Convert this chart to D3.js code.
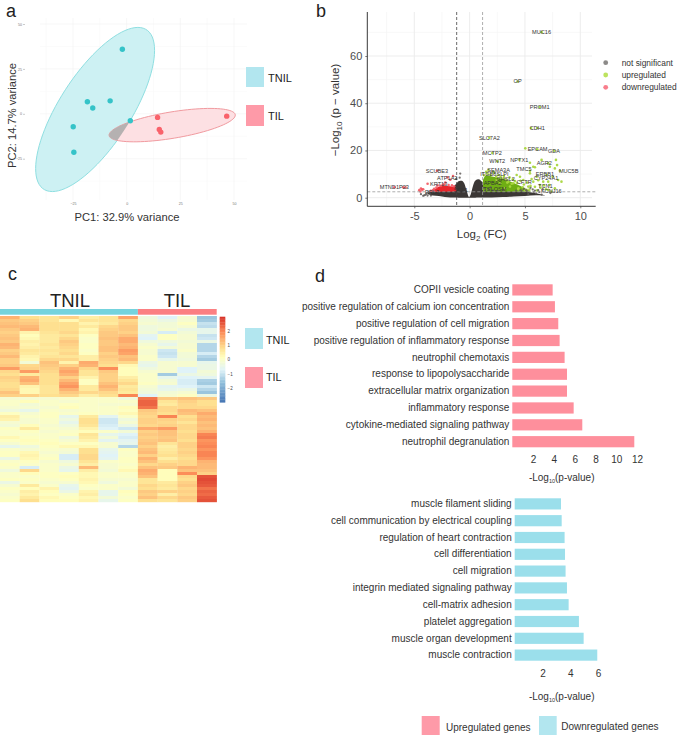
<!DOCTYPE html>
<html>
<head>
<meta charset="utf-8">
<script src="https://cdn.jsdelivr.net/npm/d3@7/dist/d3.min.js"></script>
<style>
  body { margin: 0; background: #fff; }
  text { font-family: "Liberation Sans", Arial, sans-serif; }
</style>
</head>
<body>
<script>
// panel a: PCA
var pcaTnilX = [-2, -18.3, -15.8, -7.7, 1.7, -24.9, -24.6];
var pcaTnilY = [35.9, 6.7, 3.2, 7.2, -3.9, -7.2, -21.4];
var pcaTilX = [14.4, 46.6, 15.2, 15.9];
var pcaTilY = [-2, -1.3, -8.7, -10.2];
// centre, half width, half height, correlation of each ellipse
var tnilEllipse = [-14.7, 2.4, 27.7, 45.7, 0.72];
var tilEllipse = [21.2, -6.3, 29.4, 9.3, 0.6];
var pcaTicks = [-25, 0, 25, 50];
var pcaMinor = [-37.5, -12.5, 12.5, 37.5];

// panel b: volcano
var volcanoMassX = [-3.8, -3.6, -2.5, -2, -1.5, -1.2, -1, -0.7, -0.5, -0.3, -0.05, 0.1, 0.3, 0.5, 0.8, 1.2, 2, 3, 4, 5, 6, 6.8];
var volcanoMassTop = [1.8, 2.4, 2.8, 3.2, 4.2, 6, 7, 7.2, 6.2, 3.5, 0.3, 1.5, 5, 7.2, 7.8, 6.5, 4, 3, 2.8, 2.6, 1.9, 1];
var volcanoMassBottom = [1.5, 1.2, 0.5, 0.2, 0.1, 0.05, 0, 0, 0, 0, 0, 0, 0, 0, 0.05, 0.1, 0.1, 0.3, 0.5, 0.7, 1, 0.9];
var upMassX = [1.2, 1.5, 2, 3, 4, 5, 5.5];
var upMassTop = [7.5, 9.5, 9, 8, 6.2, 4, 2.8];
var downMassX = [-3.2, -2.5, -2, -1.5, -1.2];
var downMassTop = [3.5, 5, 5, 4.6, 3.8];
var massFloor = 2.5;

var upX = [6.5, 4.34, 6.33, 5.55, 6.11, 1.78, 5.03, 6.1, 7.65, 2.05, 4.49, 2.5,
  5.45, 5.75, 5.45, 5.9, 6.5, 7.1, 7.25, 7.8, 7.9, 7.7, 8.15, 6.95, 7.5, 8, 7.1, 6.65, 8.3, 6.05, 5.45,
  4.85, 4.55, 6.35, 7.1, 7.4, 7.7, 5.75, 5.3, 5.15, 4.4, 3.95, 3.5, 3.05, 2.6, 2.15, 1.7, 3.65, 2.75, 3.2, 2.45, 4.25,
  1.3, 1.5, 1.6, 1.9, 2.2, 2.4, 2.8, 3.1, 3.3, 3.6, 3.9, 4.1, 4.3, 4.6, 4.9, 5.2, 5.5, 5.6, 5.9, 6.2, 6.4, 6.7, 6.9, 7.2,
  4.8, 5, 4.4, 5.4, 6.1, 3.8, 3.4];
var upY = [70.1, 49.2, 38.4, 29.5, 29.5, 25.4, 20.9, 20.5, 19.9, 18.9, 16.1, 15.4,
  14.8, 13.1, 11.4, 12.9, 16, 14.6, 13.1, 16, 13.8, 12.4, 11.4, 9.6, 8.9, 7.5, 6.8, 6.8, 6.8, 8.9, 10.3,
  7.5, 8.9, 5.4, 3.3, 2.6, 4, 6.8, 4.7, 3.3, 4, 6.1, 6.8, 8.2, 9.6, 11, 11.7, 4.7, 6.1, 4, 7.5, 9.6,
  9.5, 11, 10.2, 9.6, 10.5, 9, 8.8, 9.2, 7.6, 8.6, 7.8, 7, 6.2, 7.2, 5.6, 6.4, 5, 7.9, 4.6, 7.4, 4.2, 5.2, 3.6, 5.4,
  4.4, 3.1, 3.6, 3.4, 3.1, 5.9, 6.4];
var downX = [-4.55, -4.45, -4.4, -4.3, -4.2, -3.8, -2.95, -6.8, -6, -5.8, -2, -1.5, -1.75, -3.2, -3, -2.6, -2.3,
  -3.5, -3.3, -2.9, -2.4, -1.9, -1.6, -1.4, -2.2];
var downY = [3.2, 2.6, 3.9, 3.4, 3.6, 5.9, 11.4, 4.4, 4.4, 4.3, 8.6, 9.2, 7.6, 3.8, 4.3, 5, 5.5,
  2.9, 3.2, 5.2, 5.6, 5.4, 5.2, 4.8, 6.4];
var otherX = [-4.1, -3.9, -3.6, -0.9, -0.85, -1.2, 5.3, 6, 5.8, 6.2, 7.3, 5.7, 6.5, 4.7, 5.1,
  -4.4, -4.2, -4, -3.8, -3.7, -3.5,
  4.6, 4.9, 5.2, 5.5, 5.9, 6.3, 6.6, 4.2, 1.4, 1.7, 2.1, 2.5, 3, 1.3, 1.9];
var otherY = [1, 1.6, 2, 8.5, 10.2, 7.9, 1.5, 1.8, 2.4, 3.2, 2, 3.5, 1.3, 2.8, 3.2,
  1.5, 0.8, 1.2, 0.9, 2.4, 0.9,
  3.2, 3.7, 2.7, 4.2, 3, 2.4, 3.6, 3, 3, 3.6, 3.1, 2.9, 3.3, 4.2, 4.4];

var geneNames = ["MUC16", "OP", "PROM1", "CDH1", "SLC7A2", "EPCAM", "GDA", "MCTP2", "NPTX1", "WNT2", "AGR2", "TMC5",
  "SEMA3A", "MUC5B", "ITGB8", "SLPI", "ERBB1", "CYP24A1", "GHSL2", "CFTR", "APBA2", "TCN1", "SCUBE3", "ATP1A2",
  "KRT13", "MTND1P23", "KCNJ16", "TSLOSM", "RPL3", "SCL1"];
var geneX = [6.5, 4.34, 6.33, 6.11, 1.78, 6.14, 7.62, 2.05, 4.49, 2.5, 6.75, 4.91,
  2.62, 8.95, 1.69, 2.98, 6.8, 6.9, 3.25, 4.94, 2.08, 6.84, -2.95, -2.02,
  -2.8, -6.8, 7.38, 2.29, -3.4, -0.8];
var geneY = [70.1, 49.2, 38.4, 29.5, 25.4, 20.5, 19.7, 18.9, 16.1, 15.4, 14.8, 12.1,
  11.8, 11.1, 10, 10, 10.2, 8.3, 7.9, 6.8, 6.2, 5.1, 11.4, 8.3,
  5.8, 4.4, 3, 3.8, 2.4, 3.4];
var volcanoXTicks = [-5, 0, 5, 10];
var volcanoXMinor = [-7.5, -2.5, 2.5, 7.5];
var volcanoYTicks = [0, 20, 40, 60];
var volcanoYMinor = [10, 30, 50, 70];
var volcanoLegend = ["not significant", "upregulated", "downregulated"];

// panel c: heatmap, one row per gene, one value per sample
var heatColumns = ["N1", "N2", "N3", "N4", "N5", "N6", "N7", "T1", "T2", "T3", "T4"];
var heatRows = [
  [1.4,.8,.7,1,.5,.7,1.6,-.3,-.7,-.1,-1.5],
  [1.1,1,.7,.3,.7,.7,.9,-.2,-.4,-.1,-1.4],
  [1.2,1.1,.8,.8,.4,.6,1,-.1,-.2,.1,-1],
  [1.3,1.3,.8,.8,.6,.9,1.1,-.3,-.2,-.1,-1.1],
  [1.1,1.4,.8,.8,.3,1,1.1,-.3,-.1,-.4,-.5],
  [1,.4,.7,.9,.4,1.1,1,-.2,-.8,-.2,-.5],
  [1.1,.2,.6,.7,.1,1.1,1.2,-.6,.1,-.1,-1],
  [1.2,.3,.6,.9,0,1.2,1.5,-.7,.1,-.1,-.9],
  [1.1,.5,.6,1.1,0,1.1,1.5,-.3,-.3,-.2,-.4],
  [1.4,.4,.7,1,.1,1.1,1.3,-.1,-.5,-.1,-1.2],
  [1.3,.5,.6,.9,.1,1.2,1.4,0,-.2,-.1,-1.2],
  [1,.7,.7,.8,0,1.2,1.7,-.1,-.9,0,-1.2],
  [1.1,.6,.6,.9,.1,1,1.6,-.1,-1,-.2,-.8],
  [1.3,.4,.7,.7,.5,1.1,1.2,0,-.9,-.2,-1.2],
  [1,.3,.9,.9,.5,1,1.3,0,-.5,-.3,-1.4],
  [1,-.2,1.2,.4,1.5,.9,.9,-.4,-.1,-.1,-.5],
  [1.1,.9,1.1,1,1.4,.8,.3,-.5,-.1,-.1,-.4],
  [1.7,1,1,1.4,.9,1.9,.2,-.3,-.1,-.7,-.4],
  [.9,1.7,.9,1.6,.7,1.1,.2,-.1,-.1,-.7,-.2],
  [.8,.6,.8,1.4,.7,1,.2,0,-1.4,-.4,-.3],
  [1,1.4,.8,1,.4,1,.5,0,-.5,-.7,-.6],
  [.9,1.5,.8,1.3,.1,1,.7,0,-.2,-.8,-1.3],
  [.8,1.2,.8,1.6,.1,1.2,.9,.1,-.1,-.8,-1.4],
  [.8,.4,.7,1.8,.6,1.4,.6,-.1,-.6,-.7,-.9],
  [.9,.3,.7,1.4,.6,1.2,.7,-.2,-.5,-.4,-1.2],
  [1.2,.3,.7,1.1,.9,.9,.6,-.3,-.2,-.1,-1.5],
  [1,1,.8,.9,.5,.8,2,-.7,-.1,.1,-.4],
  [-.1,-.1,-.1,0,0,0,-.3,2.2,1.1,1.2,1.1],
  [0,.2,0,-.1,0,0,0,2.4,.7,1,.8],
  [0,-.2,0,.1,0,-.1,-.1,2.4,.6,.9,.8],
  [-.1,-.1,-.1,.2,0,0,.2,2.2,.9,.9,.9],
  [-.3,-.5,0,-.1,0,0,.1,1.1,.9,1.3,1.2],
  [.1,-.1,.1,0,.1,0,.3,1,.8,1.2,1.5],
  [.5,0,.1,-.5,.6,-.6,0,.9,2,.8,1.3],
  [.4,-.1,0,-.3,.8,-.9,-.3,1,1,.9,1.4],
  [-.1,-.1,0,-.5,.8,-.9,-.1,1,.9,.7,1.2],
  [-.2,.2,-.1,-.3,.7,-.8,-.4,.9,1,.9,1.3],
  [.1,.6,0,-.1,.4,-.7,-.9,1.5,1.7,.9,1.2],
  [0,.1,-.1,0,.2,0,-.2,1,1.2,.8,1.4],
  [0,0,0,.1,.7,-.5,-.7,1.1,1.2,.9,2],
  [.3,.1,0,-.3,.6,-.2,-.8,1,1.1,.9,2.1],
  [.1,.2,.1,-.1,.4,-.6,-.6,1.1,1.2,.8,1.8],
  [-.1,.1,.2,.1,.1,-.1,-.5,1.2,.7,1,1.9],
  [-.5,-.3,.1,.3,.3,-.1,-1.2,1,.5,1,2],
  [0,-.1,0,-.1,.8,-.5,.1,1.2,.6,.9,1.8],
  [.1,.3,-.1,-.2,.8,-.6,0,1.3,.7,1,2],
  [.1,.4,0,-.8,.9,-.7,0,1,.8,.9,2],
  [-.4,.3,.1,-.8,.9,-.6,.1,1.4,.5,.8,1.8],
  [0,.1,-.1,-.3,.7,0,.1,1.2,.8,.9,1.4],
  [.1,0,0,-.1,.5,-.1,0,.9,1,.9,1.3],
  [0,-.8,0,-.4,1.3,-.1,.1,1.2,1.1,1.4,1.3],
  [-.3,.9,0,-.5,.5,-.2,.3,1.5,.2,1.2,1.2],
  [0,.2,.1,.1,.3,0,0,1.4,.2,1.9,1],
  [0,0,.1,.2,.3,0,0,1.2,.2,.9,2.6],
  [.1,.1,0,.1,.4,-.1,-.1,.7,.2,.8,2.7],
  [-.4,0,-.1,-.1,.3,-.3,0,.7,.6,1,2.6],
  [-.1,.6,0,-.5,.1,0,0,.9,.7,1.1,2.5],
  [.1,.2,.4,-.6,0,0,-.2,.8,.6,.9,2.2],
  [0,.5,.2,-.4,.4,-.5,.2,1.1,1,1,2.4],
  [-.1,.4,.1,0,.5,-.5,.1,1,.5,.9,2.3],
  [0,.6,.3,.1,.3,-.2,0,1.2,.9,1.1,2.5],
  [.1,.8,.2,.2,.4,-.5,.1,.8,.7,1,2.6]
];
var heatTicks = [-2, -1, 0, 1, 2];

// panel d: enrichment bars
var upTerms = ["COPII vesicle coating", "positive regulation of calcium ion concentration",
  "positive regulation of cell migration", "positive regulation of inflammatory response",
  "neutrophil chemotaxis", "response to lipopolysaccharide", "extracellular matrix organization",
  "inflammatory response", "cytokine-mediated signaling pathway", "neutrophil degranulation"];
var upValues = [3.88, 4.1, 4.42, 4.55, 5.03, 5.26, 5.26, 5.9, 6.73, 11.73];
var upTicks = [2, 4, 6, 8, 10, 12];
var downTerms = ["muscle filament sliding", "cell communication by electrical coupling",
  "regulation of heart contraction", "cell differentiation", "cell migration",
  "integrin mediated signaling pathway", "cell-matrix adhesion", "platelet aggregation",
  "muscle organ development", "muscle contraction"];
var downValues = [3.33, 3.38, 3.59, 3.62, 3.66, 3.76, 3.88, 4.62, 4.96, 5.94];
var downTicks = [2, 4, 6];

var w = 677;
var h = 737;
var teal = "#35c3c8";
var red = "#f9626b";
var legendTeal = "#b2e6ef";
var legendPink = "#fe9aa8";

var svg = d3.select("body")
            .append("svg")
            .attr("width", w)
            .attr("height", h)
            .style("display", "block");

function label(x, y, str, size, anchor, fill) {
  return svg.append("text")
            .attr("x", x)
            .attr("y", y)
            .attr("text-anchor", anchor || "start")
            .attr("fill", fill || "#222")
            .style("font-size", size + "px")
            .text(str);
}

label(6, 16.5, "a", 18);
label(316, 16.5, "b", 18);
label(8, 280, "c", 18);
label(315, 282, "d", 18);

function zip(xs, ys) {
  return xs.map(function(x, i) { return [x, ys[i]]; });
}

// ---------- panel a ----------
var xA = d3.scaleLinear().domain([-25, 50]).range([73, 234]);
var yA = d3.scaleLinear().domain([-25, 50]).range([158.7, 24]);
var aLeft = 40, aRight = 247, aTop = 18, aBottom = 200;

pcaMinor.concat(pcaTicks).forEach(function(v, i) {
  var col = i < pcaMinor.length ? "#f8f8f8" : "#f1f1f1";
  svg.append("line").attr("x1", xA(v)).attr("x2", xA(v)).attr("y1", aTop).attr("y2", aBottom).attr("stroke", col).attr("stroke-width", 0.6);
  svg.append("line").attr("x1", aLeft).attr("x2", aRight).attr("y1", yA(v)).attr("y2", yA(v)).attr("stroke", col).attr("stroke-width", 0.6);
});

function ellipsePoints(e) {
  var pts = [];
  for (var k = 0; k <= 90; k++) {
    var t = k / 90 * 2 * Math.PI;
    pts.push([e[0] + e[2] * Math.cos(t),
              e[1] + e[3] * (e[4] * Math.cos(t) + Math.sqrt(1 - e[4] * e[4]) * Math.sin(t))]);
  }
  return pts;
}
var ellipseLine = d3.line().x(function(d) { return xA(d[0]); }).y(function(d) { return yA(d[1]); });

svg.append("clipPath").attr("id", "tnilClip")
   .append("path").attr("d", ellipseLine(ellipsePoints(tnilEllipse)));

svg.append("path").attr("d", ellipseLine(ellipsePoints(tnilEllipse)))
   .attr("fill", "#cdf1f3").attr("stroke", "#8fdfe1").attr("stroke-width", 1);
svg.append("path").attr("d", ellipseLine(ellipsePoints(tilEllipse)))
   .attr("fill", "#fde0e3").attr("stroke", "#f19a9f").attr("stroke-width", 1);
svg.append("path").attr("d", ellipseLine(ellipsePoints(tilEllipse)))
   .attr("clip-path", "url(#tnilClip)")
   .attr("fill", "#b5b1b1").attr("stroke", "none");

svg.selectAll(".pcaTnil").data(zip(pcaTnilX, pcaTnilY)).enter().append("circle")
   .attr("cx", function(d) { return xA(d[0]); })
   .attr("cy", function(d) { return yA(d[1]); })
   .attr("r", 2.7).attr("fill", teal);
svg.selectAll(".pcaTil").data(zip(pcaTilX, pcaTilY)).enter().append("circle")
   .attr("cx", function(d) { return xA(d[0]); })
   .attr("cy", function(d) { return yA(d[1]); })
   .attr("r", 2.7).attr("fill", red);

var xAxisA = svg.append("g").attr("transform", "translate(0,200)")
   .call(d3.axisBottom(xA).tickValues(pcaTicks).tickSize(0).tickPadding(2));
var yAxisA = svg.append("g").attr("transform", "translate(25,0)")
   .call(d3.axisLeft(yA).tickValues(pcaTicks).tickSize(2).tickPadding(1));
[xAxisA, yAxisA].forEach(function(g) {
  g.select(".domain").remove();
  g.selectAll("text").style("font-size", "3.6px").attr("fill", "#777");
  g.selectAll("line").attr("stroke", "#999").attr("stroke-width", 0.5);
});

label(127, 221, "PC1: 32.9% variance", 11.2, "middle", "#333");
label(0, 0, "PC2: 14.7% variance", 11.2, "middle", "#333")
  .attr("transform", "translate(16,115.5) rotate(-90)");

svg.append("rect").attr("x", 246).attr("y", 67).attr("width", 18).attr("height", 20).attr("fill", legendTeal);
svg.append("rect").attr("x", 246).attr("y", 105).attr("width", 18).attr("height", 21).attr("fill", legendPink);
label(268, 82, "TNIL", 11);
label(268, 120, "TIL", 11);

// ---------- panel b ----------
var xB = d3.scaleLinear().domain([-5, 10]).range([414.3, 580.3]);
var yB = d3.scaleLinear().domain([0, 60]).range([197.7, 56]);
var bLeft = 367.3, bRight = 595.7, bTop = 12, bBottom = 206.3;

volcanoXMinor.forEach(function(v) {
  svg.append("line").attr("x1", xB(v)).attr("x2", xB(v)).attr("y1", bTop).attr("y2", bBottom).attr("stroke", "#f3f3f3").attr("stroke-width", 0.6);
});
volcanoYMinor.forEach(function(v) {
  svg.append("line").attr("x1", bLeft).attr("x2", 592).attr("y1", yB(v)).attr("y2", yB(v)).attr("stroke", "#f3f3f3").attr("stroke-width", 0.6);
});
volcanoXTicks.forEach(function(v) {
  svg.append("line").attr("x1", xB(v)).attr("x2", xB(v)).attr("y1", bTop).attr("y2", bBottom).attr("stroke", "#ebebeb").attr("stroke-width", 0.9);
});
volcanoYTicks.forEach(function(v) {
  svg.append("line").attr("x1", bLeft).attr("x2", 592).attr("y1", yB(v)).attr("y2", yB(v)).attr("stroke", "#ebebeb").attr("stroke-width", 0.9);
});

var massArea = d3.area().curve(d3.curveMonotoneX)
  .x(function(d) { return xB(d[0]); })
  .y0(function(d) { return yB(d[2]); })
  .y1(function(d) { return yB(d[1]); });

function dots(xs, ys, fill, r, opacity) {
  svg.append("g").selectAll("circle").data(zip(xs, ys)).enter().append("circle")
     .attr("cx", function(d) { return xB(d[0]); })
     .attr("cy", function(d) { return yB(d[1]); })
     .attr("r", r).attr("fill", fill).attr("fill-opacity", opacity);
}

svg.append("path")
   .attr("d", massArea(volcanoMassX.map(function(x, i) { return [x, volcanoMassTop[i], volcanoMassBottom[i]]; })))
   .attr("fill", "#3b3735");
svg.append("path")
   .attr("d", massArea(upMassX.map(function(x, i) { return [x, upMassTop[i], massFloor]; })))
   .attr("fill", "#6fae14");
svg.append("path")
   .attr("d", massArea(downMassX.map(function(x, i) { return [x, downMassTop[i], massFloor]; })))
   .attr("fill", "#e8262c");

dots(upX, upY, "#a9d63f", 1.3, 0.95);
dots(downX, downY, "#f2555f", 1.3, 0.9);
dots(otherX, otherY, "#5f5b58", 1.15, 0.85);

// threshold lines
[[-1.17, "#444"], [1.17, "#999"]].forEach(function(d) {
  svg.append("line").attr("x1", xB(d[0])).attr("x2", xB(d[0])).attr("y1", bTop).attr("y2", bBottom)
     .attr("stroke", d[1]).attr("stroke-width", 0.8).attr("stroke-dasharray", "3,2");
});
svg.append("line").attr("x1", bLeft).attr("x2", bRight).attr("y1", yB(massFloor)).attr("y2", yB(massFloor))
   .attr("stroke", "#999").attr("stroke-width", 0.8).attr("stroke-dasharray", "3,2");

svg.append("g").selectAll("text").data(geneNames).enter().append("text")
   .attr("x", function(d, i) { return xB(geneX[i]); })
   .attr("y", function(d, i) { return yB(geneY[i]) + 1.9; })
   .attr("text-anchor", "middle")
   .attr("fill", "#333")
   .style("font-size", "5.6px")
   .text(function(d) { return d; });

var xAxisB = svg.append("g").attr("transform", "translate(0," + bBottom + ")")
   .call(d3.axisBottom(xB).tickValues(volcanoXTicks).tickSize(2).tickPadding(4).tickFormat(function(d) { return d; }));
var yAxisB = svg.append("g").attr("transform", "translate(" + bLeft + ",0)")
   .call(d3.axisLeft(yB).tickValues(volcanoYTicks).tickSize(2).tickPadding(3));
xAxisB.select(".domain").attr("d", "M" + bLeft + ",0H" + bRight);
yAxisB.select(".domain").attr("d", "M0," + bBottom + "V" + bTop);
[xAxisB, yAxisB].forEach(function(g) {
  g.select(".domain").attr("stroke", "#222").attr("stroke-width", 0.9);
  g.selectAll("text").style("font-size", "11px").attr("fill", "#4d4d4d");
  g.selectAll("line").attr("stroke", "#444").attr("stroke-width", 0.7);
});

var xTitle = label(481.7, 238, "Log", 11.5, "middle", "#333");
xTitle.append("tspan").attr("dy", 2.5).style("font-size", "8px").text("2");
xTitle.append("tspan").attr("dy", -2.5).text(" (FC)");
var yTitle = label(0, 0, "\u2212Log", 11.5, "middle", "#333")
  .attr("transform", "translate(339,110) rotate(-90)");
yTitle.append("tspan").attr("dy", 2.5).style("font-size", "8px").text("10");
yTitle.append("tspan").attr("dy", -2.5).text(" (p \u2212 value)");

var volcanoLegendY = d3.scalePoint().domain(volcanoLegend).range([62.7, 87.3]);
var volcanoLegendColor = d3.scaleOrdinal().domain(volcanoLegend).range(["#8c8a88", "#bde35f", "#f87e8c"]);
volcanoLegend.forEach(function(d) {
  svg.append("circle").attr("cx", 605.7).attr("cy", volcanoLegendY(d)).attr("r", 2.4).attr("fill", volcanoLegendColor(d));
  label(621.7, volcanoLegendY(d) + 3, d, 8.4, "start", "#333");
});

// ---------- panel c ----------
var xC = d3.scaleBand().domain(heatColumns).range([0, 216.7]);
var yC = d3.scaleBand().domain(d3.range(heatRows.length)).range([316, 502]);
var colorC = d3.scaleLinear()
  .domain([-3, -1.6, -0.7, 0.15, 0.8, 1.9, 3])
  .range(["#4575b4", "#91bfdb", "#e0f3f8", "#ffffbf", "#fee090", "#fc8d59", "#d73027"]);

svg.append("g").selectAll("g").data(heatRows).enter().append("g")
   .each(function(row, i) {
     d3.select(this).selectAll("rect").data(row).enter().append("rect")
       .attr("x", function(d, j) { return xC(heatColumns[j]); })
       .attr("y", yC(i))
       .attr("width", xC.bandwidth() + 0.2)
       .attr("height", yC.bandwidth() + 0.2)
       .attr("fill", function(d) { return colorC(d); });
   });

svg.append("rect").attr("x", xC("N1")).attr("y", 309).attr("width", xC("T1") - xC("N1")).attr("height", 5.7).attr("fill", "#74d3dd");
svg.append("rect").attr("x", xC("T1")).attr("y", 309).attr("width", 216.7 - xC("T1")).attr("height", 5.7).attr("fill", "#fb7f82");
label(70, 306.5, "TNIL", 18.5, "middle");
label(177, 306.5, "TIL", 18.5, "middle");

// colour bar
var yBar = d3.scaleLinear().domain([-3, 3]).range([402.3, 316.7]);
svg.append("g").selectAll("rect").data(d3.range(-3, 3, 0.1)).enter().append("rect")
   .attr("x", 219.7)
   .attr("y", function(d) { return yBar(d + 0.1); })
   .attr("width", 5.6)
   .attr("height", function(d) { return yBar(d) - yBar(d + 0.1) + 0.3; })
   .attr("fill", function(d) { return colorC(d + 0.05); });
var barAxis = svg.append("g").attr("transform", "translate(225.5,0)")
   .call(d3.axisRight(yBar).tickValues(heatTicks).tickSize(0).tickPadding(2).tickFormat(d3.format("d")));
barAxis.select(".domain").remove();
barAxis.selectAll("text").style("font-size", "4.5px").attr("fill", "#444");

svg.append("rect").attr("x", 245).attr("y", 328).attr("width", 18).attr("height", 21).attr("fill", legendTeal);
svg.append("rect").attr("x", 245).attr("y", 367).attr("width", 18).attr("height", 21).attr("fill", legendPink);
label(266, 344, "TNIL", 10.8);
label(266, 381, "TIL", 10.8);

// ---------- panel d ----------
function barPanel(terms, values, ticks, x0, pxPerUnit, top, bottom, axisY, fill) {
  var x = d3.scaleLinear().domain([0, 12]).range([x0, x0 + pxPerUnit * 12]);
  var y = d3.scaleBand().domain(terms).range([top, bottom]).paddingInner(0.335);

  svg.append("g").selectAll("rect").data(terms).enter().append("rect")
     .attr("x", x(0))
     .attr("y", function(d) { return y(d); })
     .attr("width", function(d, i) { return x(values[i]) - x(0); })
     .attr("height", y.bandwidth())
     .attr("fill", fill);

  var left = svg.append("g").attr("transform", "translate(" + (x0 - 3) + ",0)")
     .call(d3.axisLeft(y).tickSize(0).tickPadding(0));
  left.select(".domain").remove();
  left.selectAll("text").style("font-size", "10px").attr("fill", "#333");

  var bottomAxis = svg.append("g").attr("transform", "translate(0," + axisY + ")")
     .call(d3.axisBottom(x).tickValues(ticks).tickSize(0).tickPadding(0));
  bottomAxis.select(".domain").remove();
  bottomAxis.selectAll("text").style("font-size", "10px").attr("fill", "#333");
}

barPanel(upTerms, upValues, upTicks, 512.3, 10.4, 284.3, 447.3, 456, "#fe8f9c");
barPanel(downTerms, downValues, downTicks, 514.7, 13.9, 498.3, 660.7, 669.5, "#9bdfeb");

function pValueTitle(y) {
  var t = label(561.7, y, "-Log", 10, "middle", "#333");
  t.append("tspan").attr("dy", 2).style("font-size", "5.5px").text("10");
  t.append("tspan").attr("dy", -2).text("(p-value)");
}
pValueTitle(481);
pValueTitle(700);

svg.append("rect").attr("x", 421.7).attr("y", 716).attr("width", 18).attr("height", 19).attr("fill", legendPink);
svg.append("rect").attr("x", 539).attr("y", 716).attr("width", 17.7).attr("height", 19).attr("fill", legendTeal);
label(446, 731, "Upregulated genes", 10, "start", "#333");
label(561.3, 730, "Downregulated genes", 10, "start", "#333");
</script>
</body>
</html>
